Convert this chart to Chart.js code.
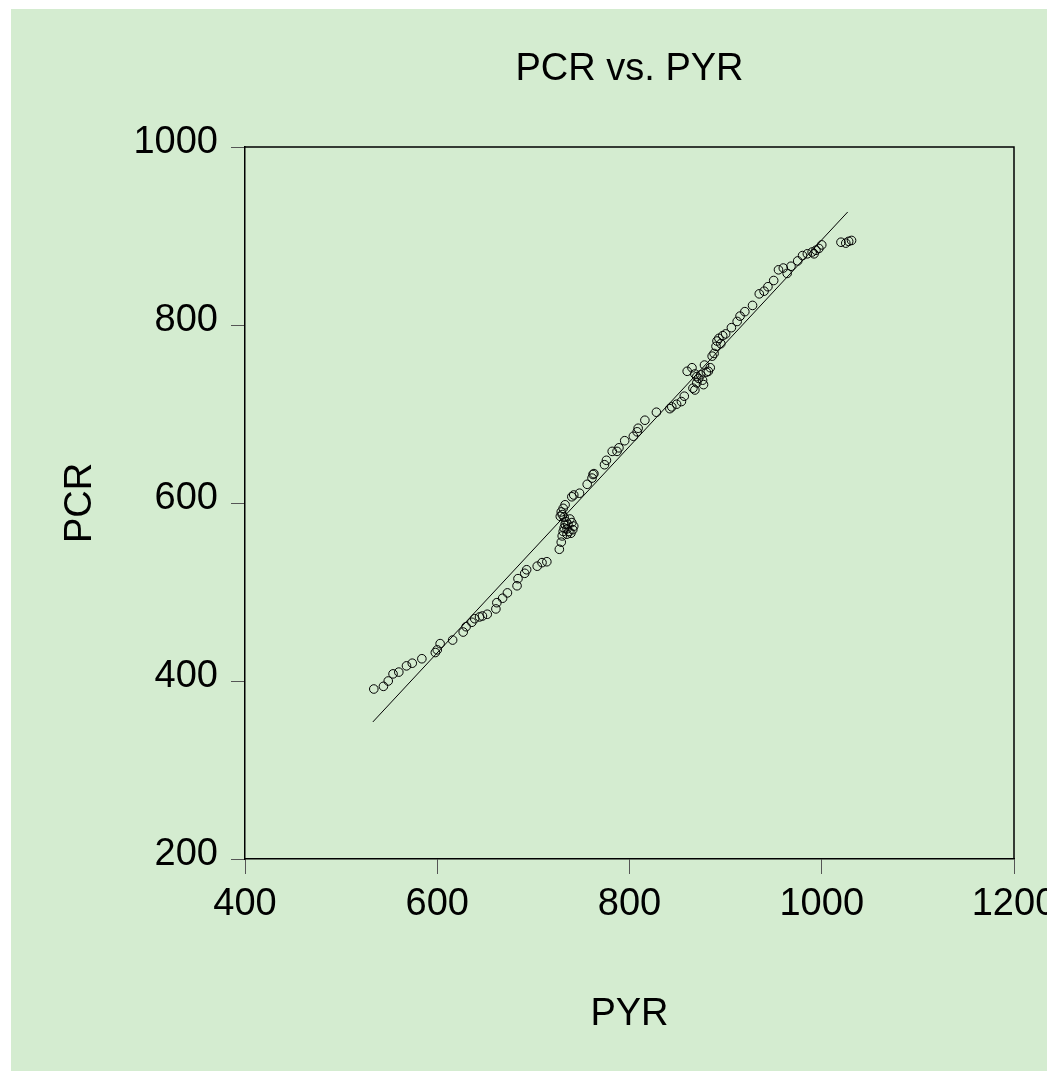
<!DOCTYPE html>
<html>
<head>
<meta charset="utf-8">
<script src="https://cdn.jsdelivr.net/npm/chart.js@4/dist/chart.umd.min.js"></script>
<style>
  html, body { margin: 0; padding: 0; background: #ffffff; }
  #frame { position: absolute; left: 11px; top: 9px; width: 1036px; height: 1062px; background: #d4ecd0; overflow: hidden; }
  #c { display: block; }
</style>
</head>
<body>
<div id="frame"><canvas id="c" width="1100" height="1062" style="width:1100px;height:1062px"></canvas></div>
<script>
const pyr = [534,544,549,554,560,568,574,584,598,600,603,616,627,630,636,639,644,647,652,661,662,668,673,683,684,691,693,704,709,714,
  727,729,730,731,732,733,735,737,739,741,742,740,738,736,734,732,730,729,731,733,728,735,
  740,742,748,756,761,762,763,774,776,782,787,789,795,804,808,809,816,828,842,844,849,854,857,866,870,877,868,
  860,865,868,870,872,874,876,878,880,882,884,886,888,890,891,893,895,897,900,906,912,915,920,928,935,940,944,950,955,960,964,968,975,980,985,990,992,994,997,1000,1020,1025,1028,1031];
const pcr = [391,394,400,408,410,417,420,425,432,435,442,446,455,461,466,470,472,473,475,481,488,493,499,507,515,521,525,529,533,534,
  548,556,563,568,572,576,571,568,566,570,574,578,582,576,579,584,587,590,594,598,585,565,
  607,609,611,621,628,632,633,643,648,658,658,662,670,675,680,684,693,702,706,708,711,714,720,729,735,733,727,
  748,752,745,742,740,744,738,755,747,748,752,765,768,776,782,785,779,788,790,797,804,810,815,822,835,838,843,850,862,864,858,866,872,878,880,882,880,884,886,890,893,892,894,895];
// Fitted line end points
const fitPyr = [533, 1027];
const fitPcr = [354, 927];
const xTicks = [400, 600, 800, 1000, 1200];
const yTicks = [200, 400, 600, 800, 1000];
const chartTitle = 'PCR vs. PYR';
const xTitle = 'PYR';
const yTitle = 'PCR';

const FONT = 'Liberation Sans, Arial, Helvetica, sans-serif';
const scatterPts = pyr.map((x, i) => ({ x: x, y: pcr[i] }));
const fitPts = fitPyr.map((x, i) => ({ x: x, y: fitPcr[i] }));

const boxPlugin = {
  id: 'boxPlugin',
  afterDraw(chart) {
    const { ctx, chartArea: a } = chart;
    ctx.save();
    ctx.strokeStyle = '#000';
    ctx.lineWidth = 1.5;
    ctx.beginPath();
    ctx.moveTo(a.left, a.top);
    ctx.lineTo(a.right, a.top);
    ctx.lineTo(a.right, a.bottom);
    ctx.stroke();
    ctx.restore();
  }
};

new Chart(document.getElementById('c'), {
  type: 'scatter',
  data: {
    datasets: [
      {
        type: 'scatter',
        data: scatterPts,
        pointStyle: 'circle',
        pointRadius: 4.3,
        borderWidth: 1,
        borderColor: '#000',
        backgroundColor: 'rgba(0,0,0,0)'
      },
      {
        type: 'line',
        data: fitPts,
        borderColor: '#000',
        borderWidth: 1,
        pointRadius: 0,
        fill: false
      }
    ]
  },
  options: {
    responsive: false,
    animation: false,
    events: [],
    layout: { padding: { left: 0, top: 0, right: 97, bottom: 0 } },
    plugins: {
      legend: { display: false },
      tooltip: { enabled: false },
      title: {
        display: true,
        text: chartTitle,
        fullSize: false,
        color: '#000',
        font: { family: FONT, size: 38, weight: 'normal', lineHeight: 1.2 },
        padding: { top: 38, bottom: 54.4 }
      }
    },
    scales: {
      x: {
        type: 'linear',
        position: 'bottom',
        min: xTicks[0],
        max: xTicks[xTicks.length - 1],
        afterBuildTicks: s => { s.ticks = xTicks.map(v => ({ value: v })); },
        afterFit: s => { s.height = 212; },
        ticks: {
          color: '#000',
          padding: 8,
          maxRotation: 0,
          autoSkip: false,
          font: { family: FONT, size: 38, lineHeight: 1.2 },
          callback: v => String(v)
        },
        grid: { drawOnChartArea: false, tickLength: 15, color: '#555555', tickWidth: 1 },
        border: { display: true, color: '#000', width: 1.5 },
        title: {
          display: true,
          text: xTitle,
          color: '#000',
          font: { family: FONT, size: 38, lineHeight: 1.2 },
          padding: { top: 0, bottom: 33.7 }
        }
      },
      y: {
        type: 'linear',
        position: 'left',
        min: yTicks[0],
        max: yTicks[yTicks.length - 1],
        afterBuildTicks: s => { s.ticks = yTicks.map(v => ({ value: v })); },
        afterFit: s => { s.width = 234; },
        ticks: {
          color: '#000',
          padding: 13,
          labelOffset: -4,
          autoSkip: false,
          font: { family: FONT, size: 38, lineHeight: 1.2 },
          callback: v => String(v)
        },
        grid: { drawOnChartArea: false, tickLength: 14, color: '#555555', tickWidth: 1 },
        border: { display: true, color: '#000', width: 1.5 },
        title: {
          display: true,
          text: yTitle,
          color: '#000',
          font: { family: FONT, size: 38, lineHeight: 1.2 },
          padding: { top: 47, bottom: 0 }
        }
      }
    }
  },
  plugins: [boxPlugin]
});
</script>
</body>
</html>
